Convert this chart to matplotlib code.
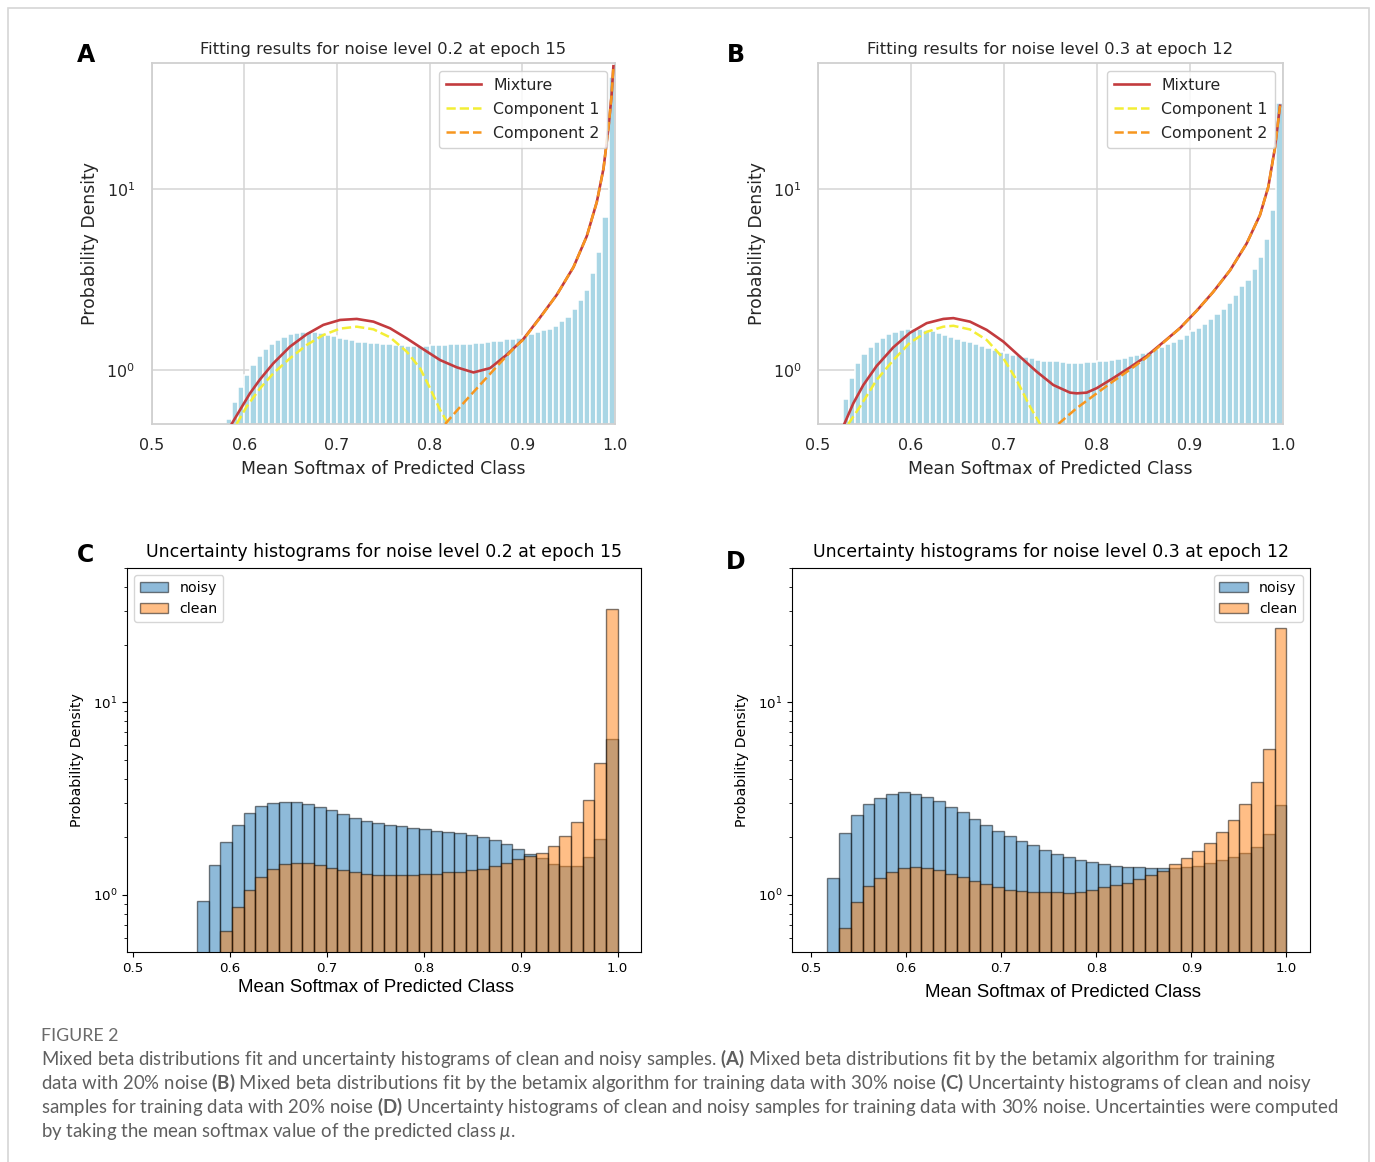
import numpy as np
import matplotlib
matplotlib.use("Agg")
import matplotlib.pyplot as plt
from matplotlib.patches import Rectangle

# ---------------- data ----------------
FIT_BIN_WIDTH = 1.0 / 150          # histogram bins of panels A and B
A_first_bin = 87
A_hist = [0.53, 0.665, 0.80, 0.935, 1.065, 1.19, 1.30, 1.39, 1.46, 1.52,
          1.57, 1.60, 1.61, 1.62, 1.61, 1.59, 1.56, 1.54, 1.50, 1.48,
          1.46, 1.43, 1.42, 1.41, 1.40, 1.39, 1.38, 1.37, 1.37, 1.36,
          1.36, 1.36, 1.36, 1.37, 1.37, 1.37, 1.38, 1.38, 1.39, 1.39,
          1.40, 1.40, 1.42, 1.44, 1.45, 1.47, 1.48, 1.50, 1.53, 1.57,
          1.61, 1.65, 1.69, 1.74, 1.85, 1.97, 2.17, 2.42, 2.77, 3.45,
          4.5, 7.0, 42.0]
A_mix_x = [0.5863, 0.5953, 0.6061, 0.617, 0.6313, 0.6493, 0.6673, 0.6853, 0.7033, 0.7214,
           0.7394, 0.7574, 0.7754, 0.7934, 0.8114, 0.8294, 0.8474, 0.8654, 0.8834, 0.9014,
           0.9194, 0.9374, 0.9554, 0.9698, 0.9806, 0.9878, 0.9932, 0.9965, 0.9985]
A_mix_y = [0.5, 0.598, 0.739, 0.884, 1.084, 1.341, 1.57, 1.77, 1.885, 1.91,
           1.845, 1.695, 1.49, 1.296, 1.13, 1.03, 0.965, 1.02, 1.21, 1.48,
           1.95, 2.6, 3.7, 5.5, 8.5, 13.0, 22.0, 33.0, 48.0]
A_c1_x = [0.5917, 0.6025, 0.617, 0.6313, 0.6493, 0.6673, 0.6853, 0.7033, 0.7214, 0.7394,
          0.7574, 0.7754, 0.7898, 0.8006, 0.8114, 0.8204]
A_c1_y = [0.5, 0.624, 0.788, 0.954, 1.156, 1.37, 1.556, 1.688, 1.73, 1.673,
          1.51, 1.258, 1.017, 0.788, 0.598, 0.498]
A_c2_x = [0.8168, 0.838, 0.856, 0.874, 0.892, 0.9014, 0.9194, 0.9374, 0.9554, 0.9698,
          0.9806, 0.9878, 0.9932, 0.9965, 0.9985]
A_c2_y = [0.5, 0.665, 0.84, 1.06, 1.33, 1.47, 1.94, 2.6, 3.7, 5.5,
          8.5, 13.0, 22.0, 33.0, 48.0]

B_first_bin = 79
B_hist = [0.69, 0.90, 1.09, 1.22, 1.33, 1.42, 1.50, 1.57, 1.61, 1.65,
          1.67, 1.68, 1.67, 1.66, 1.64, 1.60, 1.56, 1.51, 1.48, 1.45,
          1.42, 1.39, 1.35, 1.32, 1.28, 1.25, 1.23, 1.21, 1.20, 1.18,
          1.16, 1.13, 1.12, 1.12, 1.11, 1.10, 1.095, 1.09, 1.09, 1.10,
          1.105, 1.11, 1.12, 1.13, 1.14, 1.16, 1.19, 1.21, 1.23, 1.26,
          1.30, 1.33, 1.38, 1.42, 1.48, 1.55, 1.63, 1.70, 1.78, 1.90,
          2.03, 2.18, 2.35, 2.60, 2.90, 3.15, 3.60, 4.20, 5.30, 7.70,
          30.0]
B_mix_x = [0.5282, 0.5379, 0.5487, 0.563, 0.581, 0.5989, 0.6169, 0.6348, 0.6456, 0.6635,
           0.6815, 0.6994, 0.7173, 0.7353, 0.7532, 0.7712, 0.7783, 0.7891, 0.80, 0.818,
           0.8357, 0.8537, 0.8716, 0.8896, 0.9075, 0.9254, 0.9434, 0.9613, 0.9757, 0.9846,
           0.9918, 0.9972]
B_mix_y = [0.5, 0.651, 0.822, 1.048, 1.33, 1.60, 1.81, 1.91, 1.93, 1.845,
           1.66, 1.43, 1.18, 0.975, 0.822, 0.746, 0.739, 0.746, 0.79, 0.90,
           1.03, 1.19, 1.42, 1.70, 2.12, 2.7, 3.55, 5.0, 7.2, 10.3,
           17.0, 29.0]
B_c1_x = [0.5325, 0.5451, 0.563, 0.581, 0.5989, 0.6169, 0.6348, 0.6456, 0.6635, 0.6815,
          0.6994, 0.7137, 0.7281, 0.7389]
B_c1_y = [0.5, 0.624, 0.877, 1.13, 1.41, 1.62, 1.73, 1.75, 1.67, 1.46,
          1.156, 0.877, 0.624, 0.5]
B_c2_x = [0.7586, 0.778, 0.80, 0.818, 0.8357, 0.8537, 0.8716, 0.8896, 0.9075, 0.9254,
          0.9434, 0.9613, 0.9757, 0.9846, 0.9918, 0.9972]
B_c2_y = [0.5, 0.61, 0.74, 0.865, 1.0, 1.17, 1.41, 1.70, 2.12, 2.7,
          3.55, 5.0, 7.2, 10.3, 17.0, 29.0]

# panels C and D: 40 bins each
C_bin_lo, C_bin_hi = 0.5184, 1.0
C_noisy = [0, 0, 0, 0,
           0.935, 1.43, 1.89, 2.31, 2.65, 2.89, 3.00, 3.05, 3.05, 2.97,
           2.86, 2.76, 2.62, 2.52, 2.43, 2.37, 2.32, 2.27, 2.23, 2.20,
           2.15, 2.13, 2.09, 2.05, 1.99, 1.92, 1.85, 1.73, 1.63, 1.55,
           1.45, 1.41, 1.41, 1.57, 1.95, 6.45]
C_clean = [0, 0, 0, 0, 0, 0,
           0.648, 0.863, 1.066, 1.235, 1.37, 1.44, 1.46, 1.46, 1.43, 1.38,
           1.35, 1.32, 1.29, 1.265, 1.265, 1.265, 1.265, 1.28, 1.29, 1.31,
           1.32, 1.35, 1.37, 1.41, 1.47, 1.53, 1.59, 1.66, 1.80, 2.02,
           2.40, 3.13, 4.84, 30.5]
D_bin_lo, D_bin_hi = 0.505, 1.0
D_noisy = [0,
           1.225, 2.09, 2.61, 2.97, 3.19, 3.36, 3.41, 3.36, 3.24, 3.08,
           2.88, 2.69, 2.49, 2.31, 2.15, 2.02, 1.91, 1.82, 1.71, 1.63,
           1.58, 1.52, 1.477, 1.44, 1.42, 1.40, 1.40, 1.386, 1.386, 1.38,
           1.40, 1.42, 1.46, 1.52, 1.58, 1.66, 1.77, 2.07, 2.93]
D_clean = [0, 0,
           0.674, 0.923, 1.108, 1.225, 1.316, 1.381, 1.398, 1.386, 1.353, 1.29,
           1.234, 1.177, 1.135, 1.095, 1.065, 1.053, 1.04, 1.03, 1.03,
           1.024, 1.03, 1.065, 1.10, 1.12, 1.149, 1.205, 1.264, 1.326, 1.44,
           1.556, 1.70, 1.87, 2.13, 2.46, 2.97, 3.86, 5.75, 24.3]

X_TICKS = [0.5, 0.6, 0.7, 0.8, 0.9, 1.0]

# ---------------- figure ----------------
W, H = 1375, 1162
fig = plt.figure(figsize=(W / 100, H / 100), dpi=100)
plt.rcParams['font.family'] = ['DejaVu Sans']
plt.rcParams['mathtext.bf'] = 'Lato:bold'
plt.rcParams['mathtext.rm'] = 'Lato'
plt.rcParams['mathtext.it'] = 'Lato:italic'


def rect(l, t, r, b):
    return [l / W, 1 - b / H, (r - l) / W, (b - t) / H]


def fit_panel(box, title, first_bin, hist_vals, mx, my, c1x, c1y, c2x, c2y):
    ax = fig.add_axes(rect(*box))
    left = (first_bin + np.arange(len(hist_vals))) * FIT_BIN_WIDTH
    ax.bar(left, hist_vals, width=FIT_BIN_WIDTH, align='edge', color='#a9d6e5',
           edgecolor='white', linewidth=1.1, zorder=1)
    ax.plot(mx, my, color='#c33b3e', lw=1.9, label='Mixture', zorder=3)
    ax.plot(c1x, c1y, color='#f3ee35', lw=1.8, ls='--', label='Component 1', zorder=4)
    ax.plot(c2x, c2y, color='#f7961f', lw=1.8, ls='--', label='Component 2', zorder=4)
    ax.set_yscale('log')
    ax.set_xlim(0.5, 1.0)
    ax.set_ylim(0.498, 50.2)
    ax.set_xticks(X_TICKS)
    ax.set_axisbelow(True)
    ax.grid(True, which='major', color='#d4d4d4', lw=1.1)
    ax.grid(False, which='minor')
    for s in ax.spines.values():
        s.set_color('#d0d0d0')
        s.set_linewidth(1.3)
    ax.tick_params(axis='both', which='both', length=0, labelsize=11.4, colors='#262626')
    ax.tick_params(axis='x', pad=10)
    ax.tick_params(axis='y', pad=12)
    ax.set_title(title, fontsize=11.8, color='#262626', pad=6)
    ax.set_xlabel('Mean Softmax of Predicted Class', fontsize=12.4, color='#262626', labelpad=5)
    ax.set_ylabel('Probability Density', fontsize=12.4, color='#262626', labelpad=5)
    leg = ax.legend(loc='upper right', fontsize=11.3, frameon=True, fancybox=True,
                    edgecolor='#cccccc', framealpha=0.85, handlelength=2.2,
                    borderaxespad=0.5, borderpad=0.45, labelspacing=0.58)
    for t in leg.get_texts():
        t.set_color('#262626')
    return ax


fit_panel((151.7, 62.7, 614.8, 424.3), 'Fitting results for noise level 0.2 at epoch 15',
          A_first_bin, A_hist, A_mix_x, A_mix_y, A_c1_x, A_c1_y, A_c2_x, A_c2_y)
fit_panel((818.1, 62.7, 1282.6, 424.3), 'Fitting results for noise level 0.3 at epoch 12',
          B_first_bin, B_hist, B_mix_x, B_mix_y, B_c1_x, B_c1_y, B_c2_x, B_c2_y)


def unc_panel(box, title, lo, hi, noisy, clean, legloc, xlabelpad, xlabel_x):
    ax = fig.add_axes(rect(*box))
    edges = np.linspace(lo, hi, len(noisy) + 1)
    centers = 0.5 * (edges[:-1] + edges[1:])
    ax.hist(centers, bins=edges, weights=noisy, alpha=0.5, color='C0',
            edgecolor='black', linewidth=1.0, label='noisy', log=True)
    ax.hist(centers, bins=edges, weights=clean, alpha=0.5, color='C1',
            edgecolor='black', linewidth=1.0, label='clean', log=True)
    span = hi - lo
    ax.set_xlim(lo - 0.05 * span, hi + 0.05 * span)
    ax.set_ylim(0.505, 50)
    ax.set_xticks(X_TICKS)
    ax.tick_params(axis='both', which='both', labelsize=9.6)
    ax.set_title(title, fontsize=12.5, pad=8)
    ax.set_xlabel('Mean Softmax of Predicted Class', fontsize=13.4,
                  family=['Liberation Sans', 'DejaVu Sans'], labelpad=xlabelpad)
    ax.xaxis.label.set_x(xlabel_x)
    ax.set_ylabel('Probability Density', fontsize=10.2, labelpad=6)
    ax.legend(loc=legloc, fontsize=10.2, borderaxespad=0.5)
    return ax


unc_panel((127, 568, 641, 952), 'Uncertainty histograms for noise level 0.2 at epoch 15',
          C_bin_lo, C_bin_hi, C_noisy, C_clean, 'upper left', 3, 0.4835)
unc_panel((792, 568, 1310, 952), 'Uncertainty histograms for noise level 0.3 at epoch 12',
          D_bin_lo, D_bin_hi, D_noisy, D_clean, 'upper right', 7, 0.523)

# panel letters
for letter, (px, py) in zip('ABCD', [(86, 55), (736, 55), (85, 555), (736, 562)]):
    fig.text(px / W, 1 - py / H, letter, fontsize=17, fontweight='bold',
             ha='center', va='center')

# outer frame
fig.add_artist(Rectangle((8 / W, -0.02), (1369 - 8) / W, 1 - 8 / H + 0.02,
                         transform=fig.transFigure, fill=False,
                         edgecolor='#d6d6d6', linewidth=1.2))

# caption
cap_color = '#5f5f5f'
fig.text(41 / W, 1 - 1036 / H, 'FIGURE 2', fontsize=12.8, color='#6b6b6b',
         family=['Lato', 'DejaVu Sans'], ha='left', va='center')
caption_lines = [
    r'Mixed beta distributions fit and uncertainty histograms of clean and noisy samples. $\mathbf{(A)}$ Mixed beta distributions fit by the betamix algorithm for training',
    r'data with 20% noise $\mathbf{(B)}$ Mixed beta distributions fit by the betamix algorithm for training data with 30% noise $\mathbf{(C)}$ Uncertainty histograms of clean and noisy',
    r'samples for training data with 20% noise $\mathbf{(D)}$ Uncertainty histograms of clean and noisy samples for training data with 30% noise. Uncertainties were computed',
    r'by taking the mean softmax value of the predicted class $\mathit{\mu}$.',
]
for i, line in enumerate(caption_lines):
    fig.text(41 / W, 1 - (1059 + 24 * i) / H, line, fontsize=13.45, color=cap_color,
             family=['Lato', 'DejaVu Sans'], math_fontfamily='custom',
             ha='left', va='center')

fig.savefig('out.png', dpi=100)
